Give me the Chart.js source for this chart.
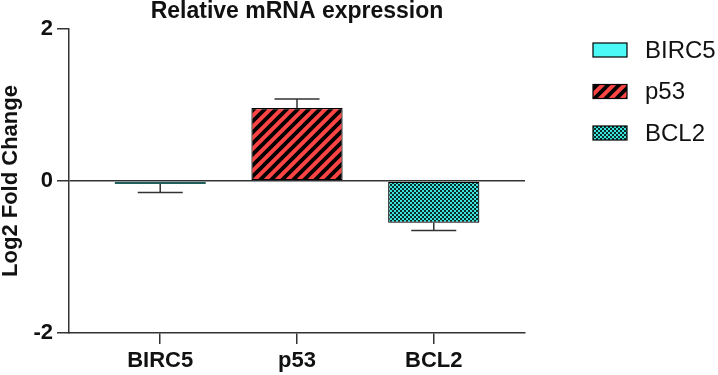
<!DOCTYPE html>
<html>
<head>
<meta charset="utf-8">
<title>Relative mRNA expression</title>
<script src="https://cdn.jsdelivr.net/npm/chart.js@4/dist/chart.umd.min.js"></script>
<style>
  html, body { margin: 0; padding: 0; background: #fff; }
  #wrap { width: 718px; height: 375px; }
</style>
</head>
<body>
<div id="wrap"><canvas id="chart" width="718" height="375"></canvas></div>
<script>
// values
const categories = ["BIRC5", "p53", "BCL2"];
const foldChange = [-0.04, 0.96, -0.55];
const errors = [0.11, 0.12, 0.1];
const yTicks = [-2, 0, 2];

const FONT = "'Liberation Sans', Arial, sans-serif";
const INK = "#111";
const LINE = "#333";

// fills: plain cyan, red with black stripes, cyan/black checks
function makeTile(size, draw) {
  const c = document.createElement("canvas");
  c.width = size;
  c.height = size;
  draw(c.getContext("2d"), size);
  return document.getElementById("chart").getContext("2d").createPattern(c, "repeat");
}

const stripes = makeTile(11, (g, s) => {
  g.fillStyle = "#ff4444";
  g.fillRect(0, 0, s, s);
  g.strokeStyle = "#000";
  g.lineWidth = 3.8;
  g.beginPath();
  g.moveTo(-1, s + 1); g.lineTo(s + 1, -1);
  g.moveTo(-3, 3); g.lineTo(3, -3);
  g.moveTo(s - 3, s + 3); g.lineTo(s + 3, s - 3);
  g.stroke();
});

const checks = makeTile(4, (g) => {
  g.fillStyle = "#0b2b2b";
  g.fillRect(0, 0, 4, 4);
  g.fillStyle = "#3de6dc";
  g.fillRect(0, 0, 2, 2);
  g.fillRect(2, 2, 2, 2);
});

const fills = ["#4df9f6", stripes, checks];

const errorBars = {
  id: "errorBars",
  afterDatasetsDraw(chart) {
    const { ctx, scales } = chart;
    ctx.save();
    ctx.strokeStyle = LINE;
    ctx.lineWidth = 1.5;
    foldChange.forEach((v, i) => {
      const x = scales.x.getPixelForValue(i);
      const sign = v < 0 ? -1 : 1;
      const y0 = scales.y.getPixelForValue(v);
      const y1 = scales.y.getPixelForValue(v + sign * errors[i]);
      ctx.beginPath();
      ctx.moveTo(x, y0);
      ctx.lineTo(x, y1);
      ctx.moveTo(x - 22.5, y1);
      ctx.lineTo(x + 22.5, y1);
      ctx.stroke();
    });
    ctx.restore();
  },
};

// legend drawn to the right of the plot
const sideLegend = {
  id: "sideLegend",
  afterDraw(chart) {
    const { ctx, chartArea } = chart;
    const bx = chartArea.right + 68;
    ctx.save();
    ctx.font = "24px " + FONT;
    ctx.textBaseline = "middle";
    categories.forEach((name, i) => {
      const cy = 50 + i * 41.5;
      ctx.fillStyle = fills[i];
      ctx.fillRect(bx, cy - 7, 34, 14);
      ctx.strokeStyle = "#000";
      ctx.lineWidth = 1.2;
      ctx.strokeRect(bx, cy - 7, 34, 14);
      ctx.fillStyle = INK;
      ctx.fillText(name, bx + 52, cy + 1);
    });
    ctx.restore();
  },
};

new Chart(document.getElementById("chart"), {
  type: "bar",
  data: {
    datasets: [
      {
        data: foldChange.map((v, i) => ({ x: i, y: v })),
        backgroundColor: fills,
        borderColor: ["#1f5f5c", "#000", "#000"],
        borderWidth: 1.2,
        borderSkipped: false,
        categoryPercentage: 1,
        barPercentage: 0.667,
      },
    ],
  },
  options: {
    responsive: false,
    animation: false,
    layout: { padding: { left: 0, right: 193, top: 0, bottom: 0 } },
    plugins: {
      legend: { display: false },
      tooltip: { enabled: false },
      title: {
        display: true,
        fullSize: false,
        text: "Relative mRNA expression",
        color: INK,
        font: { family: FONT, size: 23, weight: "bold", lineHeight: 1 },
        padding: { top: 0, bottom: 6 },
      },
    },
    scales: {
      x: {
        type: "linear",
        offset: false,
        min: -0.667,
        max: 2.667,
        afterBuildTicks: (scale) => {
          scale.ticks = categories.map((c, i) => ({ value: i }));
        },
        afterFit: (scale) => {
          scale.height = 42;
        },
        ticks: {
          callback: (v) => categories[v],
          color: INK,
          font: { family: FONT, size: 22, weight: "bold" },
          padding: 4,
          maxRotation: 0,
        },
        grid: {
          offset: false,
          drawOnChartArea: false,
          color: LINE,
          lineWidth: 1.5,
          tickLength: 11,
        },
        border: { color: LINE, width: 1.5 },
      },
      y: {
        min: -2,
        max: 2,
        afterBuildTicks: (scale) => {
          scale.ticks = yTicks.map((v) => ({ value: v }));
        },
        afterFit: (scale) => {
          scale.width = 69;
        },
        ticks: {
          color: INK,
          font: { family: FONT, size: 22, weight: "bold" },
          padding: 4,
        },
        grid: {
          color: (c) => (c.tick && c.tick.value === 0 ? LINE : "transparent"),
          tickColor: LINE,
          lineWidth: 1.5,
          tickLength: 12,
        },
        border: { color: LINE, width: 1.5 },
        title: {
          display: true,
          text: "Log2 Fold Change",
          color: INK,
          font: { family: FONT, size: 22, weight: "bold", lineHeight: 1 },
          padding: { top: 0, bottom: 0 },
        },
      },
    },
  },
  plugins: [errorBars, sideLegend],
});
</script>
</body>
</html>
